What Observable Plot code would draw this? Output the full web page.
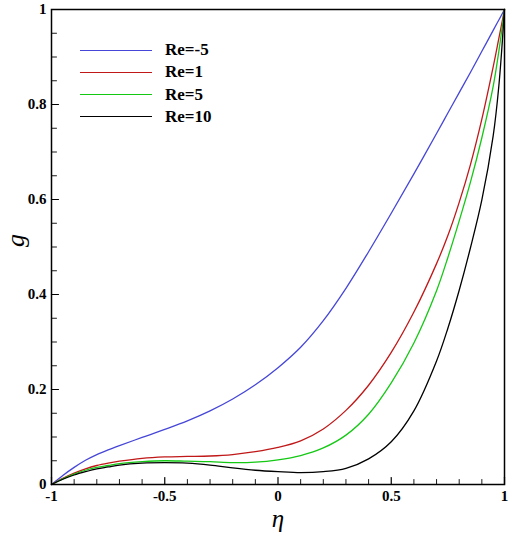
<!DOCTYPE html>
<html><head><meta charset="utf-8">
<script src="https://cdn.jsdelivr.net/npm/d3@7"></script>
<script src="https://cdn.jsdelivr.net/npm/@observablehq/plot@0.6"></script>
<style>
html,body{margin:0;padding:0;background:#fff;}
#wrap{position:relative;width:511px;height:542px;}
.legend{position:absolute;left:80px;top:0;font:bold 17px "Liberation Serif",serif;color:#000;}
.item{position:absolute;left:0;display:flex;align-items:center;height:20px;white-space:nowrap;}
.swatch{width:72px;height:0;border-top:1.4px solid;margin-right:13px;}
</style></head><body><div id="wrap"></div>
<script>
const eta =        [-1, -0.95, -0.9, -0.85, -0.8, -0.75, -0.7, -0.6, -0.5, -0.4, -0.3, -0.2, -0.1, 0, 0.1, 0.2, 0.3, 0.4, 0.5, 0.6, 0.7, 0.75, 0.8, 0.85, 0.9, 0.95, 0.975, 1];
const gReMinus5 =  [0, 0.019, 0.036, 0.051, 0.063, 0.073, 0.082, 0.099, 0.116, 0.134, 0.155, 0.180, 0.210, 0.246, 0.289, 0.345, 0.413, 0.490, 0.571, 0.654, 0.739, 0.782, 0.825, 0.868, 0.912, 0.956, 0.978, 1];
const gRe1 =       [0, 0.013, 0.024, 0.033, 0.040, 0.045, 0.049, 0.055, 0.058, 0.059, 0.060, 0.063, 0.069, 0.078, 0.092, 0.117, 0.156, 0.209, 0.278, 0.363, 0.465, 0.524, 0.594, 0.674, 0.769, 0.879, 0.939, 1];
const gRe5 =       [0, 0.012, 0.022, 0.030, 0.036, 0.040, 0.044, 0.048, 0.050, 0.049, 0.048, 0.046, 0.047, 0.052, 0.061, 0.077, 0.104, 0.148, 0.214, 0.298, 0.408, 0.478, 0.555, 0.637, 0.730, 0.838, 0.912, 1];
const gRe10 =      [0, 0.011, 0.020, 0.027, 0.033, 0.037, 0.041, 0.045, 0.046, 0.045, 0.041, 0.035, 0.030, 0.027, 0.025, 0.027, 0.034, 0.054, 0.090, 0.155, 0.260, 0.329, 0.409, 0.499, 0.599, 0.734, 0.839, 1];

const seriesNames = ["Re=-5", "Re=1", "Re=5", "Re=10"];
const seriesValues = [gReMinus5, gRe1, gRe5, gRe10];
const seriesColors = ["#4646d8", "#c01818", "#14c814", "#000000"];

const xTicks = [-1, -0.5, 0, 0.5, 1];
const xTickLabels = ["-1", "-0.5", "0", "0.5", "1"];
const xMinorTicks = [-0.9, -0.8, -0.7, -0.6, -0.4, -0.3, -0.2, -0.1, 0.1, 0.2, 0.3, 0.4, 0.6, 0.7, 0.8, 0.9];
const yTicks = [0, 0.2, 0.4, 0.6, 0.8, 1];
const yTickLabels = ["0", "0.2", "0.4", "0.6", "0.8", "1"];
const yMinorTicks = [0.05, 0.1, 0.15, 0.25, 0.3, 0.35, 0.45, 0.5, 0.55, 0.65, 0.7, 0.75, 0.85, 0.9, 0.95];

const data = seriesNames.flatMap((name, s) => eta.map((x, i) => ({series: name, eta: x, g: seriesValues[s][i]})));

const font = "Liberation Serif, Times New Roman, serif";
const tickShape = {draw(context, l) { context.moveTo(0, 0); context.lineTo(0, -l); }};

const chart = Plot.plot({
  width: 511,
  height: 542,
  marginLeft: 51,
  marginRight: 7,
  marginTop: 9,
  marginBottom: 58,
  style: {fontFamily: font, background: "#fff", color: "#000"},
  x: {domain: [-1, 1]},
  y: {domain: [0, 1]},
  color: {domain: seriesNames, range: seriesColors},
  marks: [
    Plot.line(data, {x: "eta", y: "g", z: "series", stroke: "series", curve: "catmull-rom", strokeWidth: 1.3}),
    Plot.vector(xTicks, {x: d => d, frameAnchor: "bottom", length: 7, rotate: 0, anchor: "start", shape: tickShape, stroke: "#000", strokeWidth: 1.2}),
    Plot.vector(xMinorTicks, {x: d => d, frameAnchor: "bottom", length: 5, rotate: 0, anchor: "start", shape: tickShape, stroke: "#000", strokeWidth: 0.9}),
    Plot.vector(yTicks, {y: d => d, frameAnchor: "left", length: 7, rotate: 90, anchor: "start", shape: tickShape, stroke: "#000", strokeWidth: 1.2}),
    Plot.vector(yMinorTicks, {y: d => d, frameAnchor: "left", length: 5, rotate: 90, anchor: "start", shape: tickShape, stroke: "#000", strokeWidth: 0.9}),
    Plot.axisX({ticks: xTicks, tickFormat: d => xTickLabels[xTicks.indexOf(d)], tickSize: 0, tickPadding: 6, fontSize: 15, fontWeight: "bold", label: null}),
    Plot.axisY({ticks: yTicks, tickFormat: d => yTickLabels[yTicks.indexOf(d)], tickSize: 0, tickPadding: 5, fontSize: 15, fontWeight: "bold", label: null}),
    Plot.frame({stroke: "#000", strokeWidth: 1.5}),
    Plot.text(["η"], {frameAnchor: "bottom", dy: 42, fontSize: 25, fontStyle: "italic"}),
    Plot.text(["g"], {frameAnchor: "left", dx: -36, rotate: -90, fontSize: 26, fontStyle: "italic"})
  ]
});

const wrap = document.getElementById("wrap");
wrap.appendChild(chart);

const legend = document.createElement("div");
legend.className = "legend";
seriesNames.forEach((name, i) => {
  const item = document.createElement("div");
  item.className = "item";
  item.style.top = (40 + i * 22.3) + "px";
  const sw = document.createElement("span");
  sw.className = "swatch";
  sw.style.borderTopColor = seriesColors[i];
  const label = document.createElement("span");
  label.textContent = name;
  item.appendChild(sw);
  item.appendChild(label);
  legend.appendChild(item);
});
wrap.appendChild(legend);
</script></body></html>
